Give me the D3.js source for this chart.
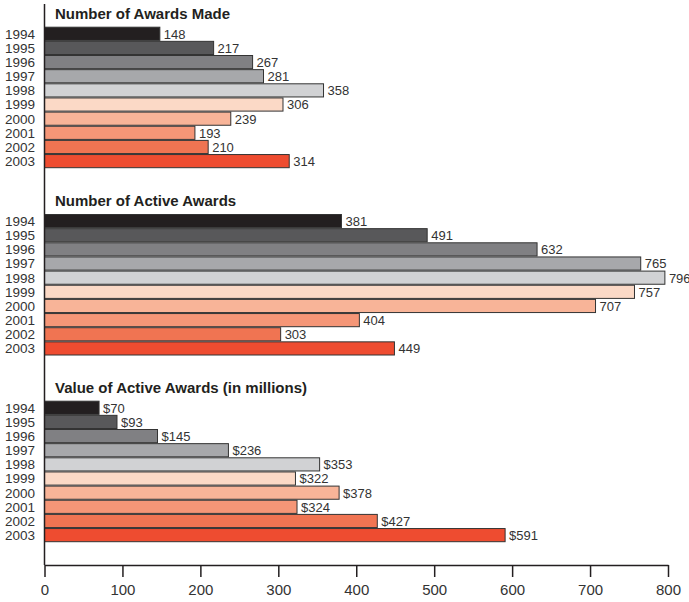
<!DOCTYPE html>
<html>
<head>
<meta charset="utf-8">
<script src="https://cdn.jsdelivr.net/npm/d3@7"></script>
<style>
  body { margin: 0; background: #fff; }
  svg { display: block; font-family: "Liberation Sans", Arial, sans-serif; }
</style>
</head>
<body>
<div id="chart"></div>
<script>
const years = ["1994", "1995", "1996", "1997", "1998", "1999", "2000", "2001", "2002", "2003"];
const awardsMade = [148, 217, 267, 281, 358, 306, 239, 193, 210, 314];
const activeAwards = [381, 491, 632, 765, 796, 757, 707, 404, 303, 449];
const activeValue = [70, 93, 145, 236, 353, 322, 378, 324, 427, 591];
const barColors = ["#231f20", "#58585a", "#808083", "#a7a8ab", "#d1d2d4",
                   "#fbd9c6", "#f8b498", "#f59677", "#f07452", "#ee4c30"];
const tickValues = [0, 100, 200, 300, 400, 500, 600, 700, 800];

const panels = [
  { title: "Number of Awards Made", values: awardsMade, fmt: d => d },
  { title: "Number of Active Awards", values: activeAwards, fmt: d => d },
  { title: "Value of Active Awards (in millions)", values: activeValue, fmt: d => "$" + d }
];

const width = 689, height = 602;
const left = 44.5, right = 668;
const axisY = 565;

const svg = d3.select("#chart").append("svg")
  .attr("width", width)
  .attr("height", height);

const x = d3.scaleLinear().domain([0, 800]).range([left, right]);
const color = d3.scaleOrdinal().domain(years).range(barColors);

const panelTops = [26.7, 214, 400.7];

panels.forEach((p, i) => {
  const top = panelTops[i];
  const y = d3.scaleBand().domain(years).range([top, top + 141.5]).padding(0);
  const g = svg.append("g");

  g.append("text")
    .attr("x", 55)
    .attr("y", top - 8)
    .attr("font-size", 15)
    .attr("font-weight", "bold")
    .attr("fill", "#231f20")
    .text(p.title);

  g.selectAll("rect")
    .data(years)
    .enter()
    .append("rect")
    .attr("x", x(0))
    .attr("y", d => y(d) + 0.5)
    .attr("width", (d, j) => x(p.values[j]) - x(0))
    .attr("height", y.bandwidth() - 1)
    .attr("fill", d => color(d))
    .attr("stroke", "#333")
    .attr("stroke-width", 1);

  g.selectAll(".year")
    .data(years)
    .enter()
    .append("text")
    .attr("class", "year")
    .attr("x", 35)
    .attr("y", d => y(d) + 12)
    .attr("text-anchor", "end")
    .attr("font-size", 13.5)
    .attr("fill", "#333")
    .text(d => d);

  g.selectAll(".val")
    .data(years)
    .enter()
    .append("text")
    .attr("class", "val")
    .attr("x", (d, j) => x(p.values[j]) + 4)
    .attr("y", d => y(d) + 12)
    .attr("font-size", 13)
    .attr("fill", "#333")
    .text((d, j) => p.fmt(p.values[j]));
});

// vertical axis line
svg.append("line")
  .attr("x1", x(0)).attr("x2", x(0))
  .attr("y1", 4).attr("y2", axisY)
  .attr("stroke", "#231f20")
  .attr("stroke-width", 1.5);

const axis = svg.append("g")
  .attr("transform", `translate(0,${axisY})`)
  .call(d3.axisBottom(x).tickValues(tickValues).tickSize(12).tickSizeOuter(0).tickPadding(7));

axis.select(".domain").attr("stroke", "#231f20").attr("stroke-width", 1.5);
axis.selectAll(".tick line").attr("stroke", "#231f20").attr("stroke-width", 1.5);
axis.selectAll(".tick text")
  .attr("font-size", 15)
  .attr("fill", "#333")
  .attr("font-family", "Liberation Sans, Arial, sans-serif");
</script>
</body>
</html>
